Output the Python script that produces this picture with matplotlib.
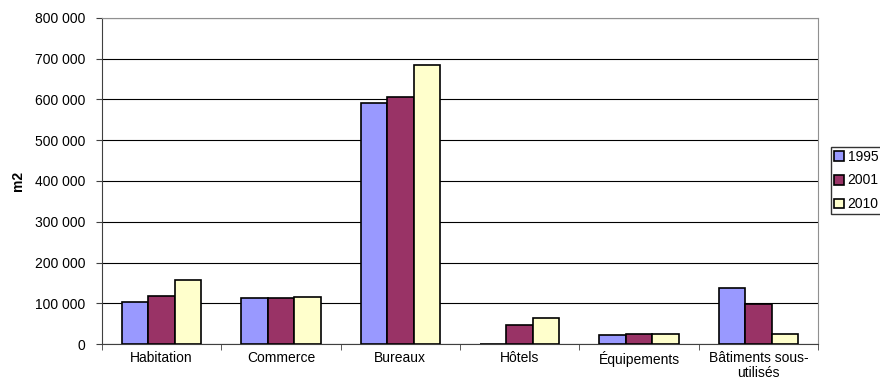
import matplotlib.pyplot as plt
import numpy as np
from matplotlib.ticker import FuncFormatter

plt.rcParams['font.family'] = ['Liberation Sans', 'DejaVu Sans']

categories = ['Habitation', 'Commerce', 'Bureaux', 'Hôtels', 'Équipements', 'Bâtiments sous-\nutilisés']
years = ['1995', '2001', '2010']
v1995 = [102000, 112000, 591000, 0, 23000, 138000]
v2001 = [117000, 112000, 606000, 47000, 25000, 97000]
v2010 = [158000, 115000, 685000, 64000, 25000, 25000]
colors = ['#9999FF', '#993366', '#FFFFCC']

fig = plt.figure(figsize=(8.8, 3.9), dpi=100)
ax = fig.add_axes([102 / 880, 46 / 390, 716 / 880, 326 / 390])

x = np.arange(len(categories))
w = 0.222
for i, (vals, yr) in enumerate(zip([v1995, v2001, v2010], years)):
    ax.bar(x + (i - 1) * w, vals, w, color=colors[i], edgecolor='black',
           linewidth=1.2, label=yr, zorder=3)

ax.set_xlim(-0.5, len(categories) - 0.5)
ax.set_ylim(0, 800000)
ax.set_yticks(np.arange(0, 800001, 100000))
ax.yaxis.set_major_formatter(FuncFormatter(lambda v, p: f'{int(v):,}'.replace(',', ' ')))
ax.grid(axis='y', color='black', linewidth=0.8, zorder=0)

ax.set_xticks(x)
ax.set_xticklabels(categories, fontsize=10, linespacing=1.1)
ax.set_xticks(np.arange(-0.5, len(categories), 1), minor=True)
ax.tick_params(axis='x', which='major', length=0, pad=5)
ax.tick_params(axis='x', which='minor', length=4, direction='out', color='#404040')
ax.tick_params(axis='y', labelsize=10, length=4, direction='out', color='#404040', pad=8)

for s in ['top', 'right']:
    ax.spines[s].set_color('#909090')
ax.spines['left'].set_color('#404040')
ax.spines['bottom'].set_color('#404040')

ax.set_ylabel('m2', fontsize=10, fontweight='bold', labelpad=7)

ax.legend(loc='upper left', bbox_to_anchor=(831 / 880, 1 - 147 / 390),
          bbox_transform=fig.transFigure, fontsize=10, frameon=True,
          fancybox=False, edgecolor='black', handlelength=0.7, handleheight=0.7,
          handletextpad=0.3, borderpad=0.2, labelspacing=0.7, borderaxespad=0)

fig.savefig('out.png', dpi=100)
